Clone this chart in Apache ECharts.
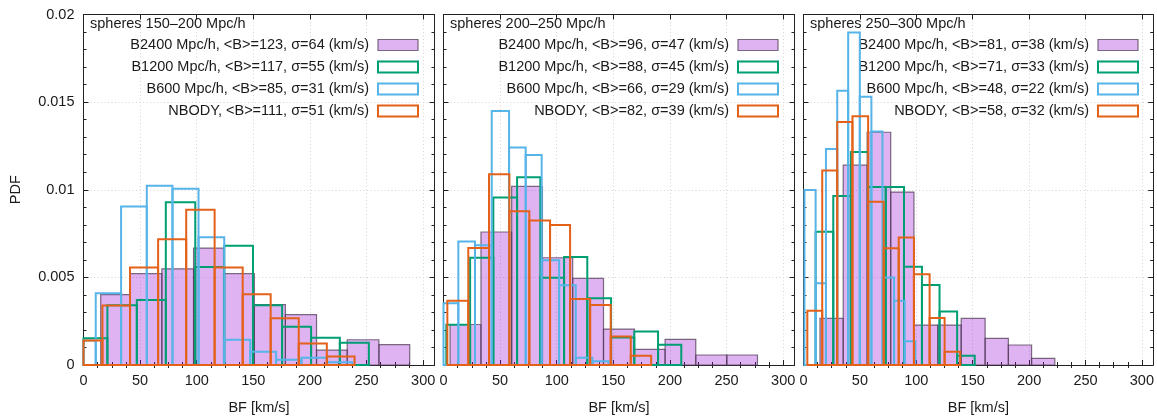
<!DOCTYPE html>
<html><head><meta charset="utf-8">
<script src="https://cdn.jsdelivr.net/npm/echarts@6/dist/echarts.min.js"></script>
<style>html,body{margin:0;padding:0;background:#fff}#c{width:1157px;height:420px}</style>
</head><body><div id="c"></div>
<script>
// ---------- data (bin edges in km/s, PDF heights) ----------
const panelTitles = ['spheres 150–200 Mpc/h', 'spheres 200–250 Mpc/h', 'spheres 250–300 Mpc/h'];
const xTicks = [0, 50, 100, 150, 200, 250, 300];
const yTicks = [0, 0.005, 0.01, 0.015, 0.02];

// panel 1 : spheres 150-200
const p1Labels = ['B2400 Mpc/h, <B>=123, σ=64 (km/s)', 'B1200 Mpc/h, <B>=117, σ=55 (km/s)', 'B600 Mpc/h, <B>=85, σ=31 (km/s)', 'NBODY, <B>=111, σ=51 (km/s)'];
const p1B2400Edges = [15.2, 41.2, 69.2, 97.2, 123.7, 150.9, 178.3, 205.8, 232.9, 260.9, 288.1];
const p1B2400Pdf   = [0.00402, 0.00521, 0.00549, 0.00667, 0.00521, 0.00345, 0.00288, 0.00085, 0.00144, 0.00116];
const p1B1200Edges = [-4.5, 21.1, 47.1, 72.7, 98.7, 124.3, 149.7, 175.4, 201.0, 226.4, 252.0];
const p1B1200Pdf   = [0.00153, 0.00341, 0.00371, 0.00928, 0.00559, 0.0068, 0.00341, 0.00218, 0.00155, 0.00127];
const p1B600Edges  = [-11.9, 10.8, 33.2, 55.9, 78.6, 101.6, 124.3, 147.3, 170.1, 192.5, 215.2, 237.4];
const p1B600Pdf    = [0.0014, 0.00409, 0.00905, 0.01023, 0.01006, 0.00729, 0.00144, 0.00076, 0.0003, 0.00042, 0.00015];
const p1NbodyEdges = [-8.1, 16.7, 41.1, 65.9, 90.7, 115.8, 140.6, 165.3, 190.1, 214.9, 239.4];
const p1NbodyPdf   = [0.0014, 0.0034, 0.00557, 0.00718, 0.00886, 0.00557, 0.00403, 0.00267, 0.00123, 0.00049];

// panel 2 : spheres 200-250
const p2Labels = ['B2400 Mpc/h, <B>=96, σ=47 (km/s)', 'B1200 Mpc/h, <B>=88, σ=45 (km/s)', 'B600 Mpc/h, <B>=66, σ=29 (km/s)', 'NBODY, <B>=82, σ=39 (km/s)'];
const p2B2400Edges = [5.8, 33.1, 60.2, 87.4, 114.1, 141.3, 168.6, 195.7, 222.8, 250.2, 277.3];
const p2B2400Pdf   = [0.00231, 0.00759, 0.01019, 0.00612, 0.00494, 0.00205, 0.00089, 0.00146, 0.00057, 0.00057];
const p2B1200Edges = [2.5, 23.5, 44, 65, 85.5, 106.5, 127, 148, 168.5, 189.5, 210];
const p2B1200Pdf   = [0.0023, 0.00612, 0.00956, 0.01072, 0.00498, 0.00616, 0.00381, 0.00157, 0.00191, 0.00116];
const p2B600Edges  = [-1.5, 13.1, 27.8, 42.6, 57.9, 72.6, 86.7, 102.1, 116.8, 131.5, 145.7];
const p2B600Pdf    = [0.00352, 0.00705, 0.00684, 0.01449, 0.01241, 0.01199, 0.00598, 0.00455, 0.00042, 0.00021];
const p2NbodyEdges = [3.4, 21.9, 40.2, 58.2, 75.8, 94.1, 111.8, 129.5, 147.7, 165.4, 183.4];
const p2NbodyPdf   = [0.00367, 0.00667, 0.01089, 0.00877, 0.00824, 0.00799, 0.00377, 0.00343, 0.00163, 0.00053];

// panel 3 : spheres 250-300
const p3Labels = ['B2400 Mpc/h, <B>=81, σ=38 (km/s)', 'B1200 Mpc/h, <B>=71, σ=33 (km/s)', 'B600 Mpc/h, <B>=48, σ=22 (km/s)', 'NBODY, <B>=58, σ=32 (km/s)'];
const p3B2400Edges = [14.6, 35.2, 56.4, 77.3, 97.9, 119.1, 139.8, 161.0, 181.6, 202.2, 222.8];
const p3B2400Pdf   = [0.00266, 0.0114, 0.01328, 0.00987, 0.00228, 0.00228, 0.00266, 0.00152, 0.00114, 0.00038];
const p3B1200Edges = [10.75, 26.4, 42.0, 57.3, 72.9, 89.1, 105.0, 120.6, 136.2, 151.8];
const p3B1200Pdf   = [0.00761, 0.00964, 0.01216, 0.01015, 0.01015, 0.0056, 0.00457, 0.00305, 0.00053];
const p3B600Edges  = [0.85, 10.75, 19.9, 29.9, 39.6, 49.9, 60.2, 70.0, 80.3, 89.7, 99.1];
const p3B600Pdf    = [0.00998, 0.00467, 0.01233, 0.01565, 0.01898, 0.01531, 0.01332, 0.00499, 0.00366, 0.00135];
const p3NbodyEdges = [3.4, 16.6, 29.9, 43.4, 57.3, 71.1, 84.4, 97.9, 111.8, 125.1, 138.9];
const p3NbodyPdf   = [0.00309, 0.0111, 0.01387, 0.01419, 0.00932, 0.00666, 0.00727, 0.00518, 0.00268, 0.00076];

// ---------- build ----------
const FONT = 'Liberation Sans, Arial, sans-serif';
const FS = 14.5;
const TXT = '#1a1a1a';
const styles = [
  {fill: 'rgba(148,0,211,0.30)', stroke: 'rgba(80,62,85,0.75)', lineWidth: 1.2},
  {fill: 'none', stroke: '#009e73', lineWidth: 2},
  {fill: 'none', stroke: '#56b4e9', lineWidth: 2},
  {fill: 'none', stroke: '#e4611a', lineWidth: 2}
];
const panels = [
  {labels: p1Labels, sets: [[p1B2400Edges, p1B2400Pdf], [p1B1200Edges, p1B1200Pdf], [p1B600Edges, p1B600Pdf], [p1NbodyEdges, p1NbodyPdf]]},
  {labels: p2Labels, sets: [[p2B2400Edges, p2B2400Pdf], [p2B1200Edges, p2B1200Pdf], [p2B600Edges, p2B600Pdf], [p2NbodyEdges, p2NbodyPdf]]},
  {labels: p3Labels, sets: [[p3B2400Edges, p3B2400Pdf], [p3B1200Edges, p3B1200Pdf], [p3B600Edges, p3B600Pdf], [p3NbodyEdges, p3NbodyPdf]]}
];
const minorX = [];
for (let v = 12.5; v < 310; v += 12.5) if (v % 50 !== 0) minorX.push(v);

function renderBox(st) {
  return function (params, api) {
    const a = api.coord([api.value(0), api.value(2)]);
    const b = api.coord([api.value(1), 0]);
    const cs = params.coordSys;
    const r = echarts.graphic.clipRectByRect(
      {x: a[0], y: a[1], width: b[0] - a[0], height: b[1] - a[1]},
      {x: cs.x, y: cs.y, width: cs.width, height: cs.height});
    if (!r) return;
    return {type: 'rect', shape: r, style: {fill: st.fill, stroke: st.stroke, lineWidth: st.lineWidth}};
  };
}

const grid = [], xAxis = [], yAxis = [], series = [], legend = [], title = [];
const lineCol = '#222';
const gridLine = {show: true, lineStyle: {color: '#d4d4d4', type: [1, 2.5], width: 1}};
panels.forEach((p, i) => {
  const left = 83.5 + 360 * i;
  grid.push({left: left, top: 14.5, width: 351, height: 351.5});
  const baseX = {gridIndex: i, type: 'value', min: 0, max: 310, interval: 50};
  xAxis.push(Object.assign({}, baseX, {
    position: 'bottom',
    axisLine: {show: true, onZero: false, lineStyle: {color: lineCol, width: 1}},
    axisTick: {show: true, inside: true, length: 5, lineStyle: {color: lineCol}},
    axisLabel: {show: true, margin: 8, showMaxLabel: false, color: TXT, fontSize: FS, fontFamily: FONT},
    splitLine: gridLine,
    name: 'BF [km/s]', nameLocation: 'middle', nameGap: 35,
    nameTextStyle: {color: TXT, fontSize: FS, fontFamily: FONT}
  }));
  xAxis.push(Object.assign({}, baseX, {
    position: 'bottom',
    axisLine: {show: false}, axisLabel: {show: false}, splitLine: {show: false},
    axisTick: {show: true, inside: true, length: 3, customValues: minorX, lineStyle: {color: lineCol}}
  }));
  xAxis.push(Object.assign({}, baseX, {
    position: 'top',
    axisLine: {show: true, onZero: false, lineStyle: {color: lineCol, width: 1}},
    axisTick: {show: true, inside: true, length: 5, lineStyle: {color: lineCol}},
    axisLabel: {show: false}, splitLine: {show: false}
  }));
  xAxis.push(Object.assign({}, baseX, {
    position: 'top',
    axisLine: {show: false}, axisLabel: {show: false}, splitLine: {show: false},
    axisTick: {show: true, inside: true, length: 3, customValues: minorX, lineStyle: {color: lineCol}}
  }));
  const baseY = {gridIndex: i, type: 'value', min: 0, max: 0.02, interval: 0.005};
  yAxis.push(Object.assign({}, baseY, {
    position: 'left',
    axisLine: {show: true, onZero: false, lineStyle: {color: lineCol, width: 1}},
    axisTick: {show: true, inside: true, length: 5, lineStyle: {color: lineCol}},
    minorTick: {show: true, splitNumber: 5, length: 3, lineStyle: {color: lineCol}},
    axisLabel: {show: i === 0, margin: 9, color: TXT, fontSize: FS, fontFamily: FONT},
    splitLine: gridLine,
    name: i === 0 ? 'PDF' : '', nameLocation: 'middle', nameGap: 60, nameRotate: 90,
    nameTextStyle: {color: TXT, fontSize: FS, fontFamily: FONT}
  }));
  yAxis.push(Object.assign({}, baseY, {
    position: 'right',
    axisLine: {show: true, onZero: false, lineStyle: {color: lineCol, width: 1}},
    axisTick: {show: true, inside: true, length: 5, lineStyle: {color: lineCol}},
    minorTick: {show: true, splitNumber: 5, length: 3, lineStyle: {color: lineCol}},
    axisLabel: {show: false}, splitLine: {show: false}
  }));
  title.push({text: panelTitles[i], left: left + 6.5, top: 16.5, padding: 0,
    textStyle: {fontSize: FS, fontWeight: 'normal', color: TXT, fontFamily: FONT}});
  const legData = [];
  p.sets.forEach((s, k) => {
    const edges = s[0], pdf = s[1];
    const data = pdf.map((h, j) => [edges[j], edges[j + 1], h]);
    series.push({
      type: 'custom', name: p.labels[k], xAxisIndex: 4 * i, yAxisIndex: 2 * i,
      renderItem: renderBox(styles[k]), encode: {x: [0, 1], y: 2}, data: data,
      itemStyle: {color: styles[k].fill === 'none' ? '#fff' : styles[k].fill},
      z: 2 + k
    });
    legData.push({name: p.labels[k], icon: 'rect', itemStyle: {
      color: k === 0 ? 'rgba(148,0,211,0.30)' : '#ffffff',
      borderColor: styles[k].stroke, borderWidth: k === 0 ? 1.2 : 2}});
  });
  legend.push({data: legData, orient: 'vertical', align: 'right', right: 738 - 360 * i, top: 37,
    padding: 0, itemWidth: 40, itemHeight: 11, itemGap: 6, selectedMode: false,
    textStyle: {fontSize: FS, color: TXT, fontFamily: FONT, lineHeight: 16, padding: [0, 4, 0, 0]}});
});

const chart = echarts.init(document.getElementById('c'), null, {renderer: 'canvas'});
chart.setOption({animation: false, backgroundColor: '#fff', title, legend, grid, xAxis, yAxis, series});
</script></body></html>
